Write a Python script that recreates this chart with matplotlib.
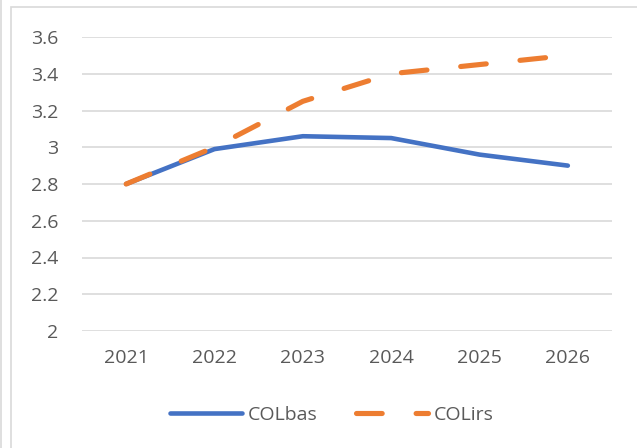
import matplotlib
matplotlib.use("Agg")
import matplotlib.pyplot as plt
from matplotlib.lines import Line2D
from matplotlib.patches import Rectangle

years = ["2021", "2022", "2023", "2024", "2025", "2026"]
colbas = [2.80, 2.99, 3.06, 3.05, 2.96, 2.90]
colirs = [2.80, 3.00, 3.25, 3.40, 3.45, 3.50]
yticks = [2, 2.2, 2.4, 2.6, 2.8, 3, 3.2, 3.4, 3.6]
ytick_labels = ["2", "2.2", "2.4", "2.6", "2.8", "3", "3.2", "3.4", "3.6"]

W, H = 637, 448
fig = plt.figure(figsize=(W / 100, H / 100), dpi=100)
plt.rcParams['font.family'] = ['Open Sans', 'DejaVu Sans']

# frame borders
fig.add_artist(Rectangle((11 / W, -0.1), 1.0, 1 - 7.5 / H + 0.1, transform=fig.transFigure,
                         fill=False, edgecolor="#d9d9d9", linewidth=1.2))
fig.add_artist(Line2D([1.5 / W, 1.5 / W], [0, 1], transform=fig.transFigure,
                      color="#d9d9d9", linewidth=1.2))

left, right, top, bottom = 82, 612, 37, 331
ax = fig.add_axes([left / W, 1 - bottom / H, (right - left) / W, (bottom - top) / H])
x = list(range(len(years)))
ax.plot(x, colbas, color="#4472c4", linewidth=3.3, solid_capstyle="round",
        solid_joinstyle="round", label="COLbas", zorder=3)
ax.plot(x, colirs, color="#ed7d31", linewidth=3.7, dash_capstyle="round",
        linestyle=(0, (5.0, 6.6)), label="COLirs", zorder=4)

ax.set_xlim(-0.5, len(years) - 0.5)
ax.set_ylim(2, 3.6)
ax.set_yticks(yticks)
ax.set_yticklabels(ytick_labels)
ax.set_xticks(x)
ax.set_xticklabels(years)
ax.grid(axis="y", color="#d9d9d9", linewidth=1.2)
ax.set_axisbelow(True)
for s in ax.spines.values():
    s.set_visible(False)
ax.tick_params(axis="both", length=0, labelsize=14, labelcolor="#595959")
ax.tick_params(axis="y", pad=17)
ax.tick_params(axis="x", pad=13)

handles, labels = ax.get_legend_handles_labels()
fig.legend(handles, labels, loc="center", bbox_to_anchor=(332 / W, 1 - 415 / H),
           ncol=2, frameon=False, fontsize=14, labelcolor="#595959",
           handlelength=3.7, handletextpad=0.3, columnspacing=2.0)

fig.savefig("out.png", dpi=100)
